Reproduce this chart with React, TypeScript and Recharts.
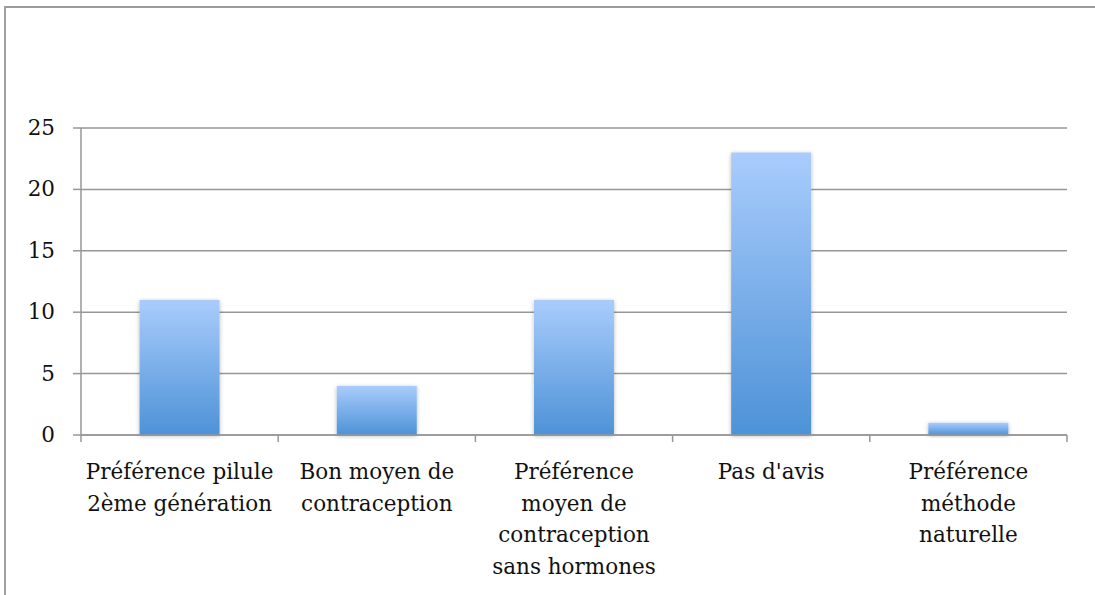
import React from "react";
import { BarChart, Bar, XAxis, YAxis, CartesianGrid } from "recharts";

const categories: string[] = [
  "Préférence pilule\n2ème génération",
  "Bon moyen de\ncontraception",
  "Préférence\nmoyen de\ncontraception\nsans hormones",
  "Pas d'avis",
  "Préférence\nméthode\nnaturelle",
];
const values: number[] = [11, 4, 11, 23, 1];
const yTicks: number[] = [0, 5, 10, 15, 20, 25];

const data = categories.map((c, i) => ({ name: c, value: values[i] }));

const FONT = "'DejaVu Serif', serif";
const FONT_SIZE = 21.5;
const GRID = "#979797";

const CatTick = (props: any) => {
  const { x, y, payload, index, visibleTicksCount } = props;
  const lines = String(payload.value).split("\n");
  const half = payload.offset ?? 0;
  const last = index === (visibleTicksCount ?? categories.length) - 1;
  return (
    <g>
      <line x1={x - half} x2={x - half} y1={y} y2={y + 7} stroke={GRID} strokeWidth={1.5} />
      {last && <line x1={x + half} x2={x + half} y1={y} y2={y + 7} stroke={GRID} strokeWidth={1.5} />}
      <text textAnchor="middle" fontFamily={FONT} fontSize={FONT_SIZE} fill="#111">
        {lines.map((l, i) => (
          <tspan key={i} x={x} y={y + 44 + i * 31.5}>
            {l}
          </tspan>
        ))}
      </text>
    </g>
  );
};

const ValTick = (props: any) => {
  const { x, y, payload } = props;
  return (
    <text x={x} y={y + 7} textAnchor="end" fontFamily={FONT} fontSize={FONT_SIZE} fill="#111">
      {payload.value}
    </text>
  );
};

export default function App() {
  return (
    <div style={{ position: "absolute", left: 0, top: 0, width: 1095, height: 595, overflow: "hidden", background: "#fff" }}>
      <div style={{ position: "absolute", left: 4, top: 6, width: 1091, height: 2, background: "#9a9a9a" }} />
      <div style={{ position: "absolute", left: 4, top: 6, width: 2, height: 589, background: "#a0a0a0" }} />
      <div style={{ position: "absolute", left: 0, top: 0 }}>
        <BarChart
          width={1095}
          height={595}
          data={data}
          margin={{ top: 128, right: 28, left: 0, bottom: 0 }}
          barCategoryGap="29.7%"
        >
          <defs>
            <linearGradient id="barGrad" x1="0" y1="0" x2="0" y2="1">
              <stop offset="0%" stopColor="#A9CCFC" />
              <stop offset="100%" stopColor="#4D92D7" />
            </linearGradient>
            <filter id="barShadow" x="-20%" y="-20%" width="140%" height="140%">
              <feDropShadow dx="0" dy="1" stdDeviation="2.2" floodColor="#000" floodOpacity="0.28" />
            </filter>
          </defs>
          <CartesianGrid vertical={false} stroke={GRID} strokeWidth={1.5} />
          <XAxis
            dataKey="name"
            interval={0}
            height={160}
            tickLine={false}
            tickSize={0}
            tickMargin={0}
            axisLine={{ stroke: GRID, strokeWidth: 1.5 }}
            tick={<CatTick />}
          />
          <YAxis
            width={81}
            domain={[0, 25]}
            ticks={yTicks}
            interval={0}
            tickSize={8}
            tickMargin={18}
            tickLine={{ stroke: GRID, strokeWidth: 1.5 }}
            axisLine={{ stroke: GRID, strokeWidth: 1.5 }}
            tick={<ValTick />}
          />
          <Bar dataKey="value" fill="url(#barGrad)" filter="url(#barShadow)" isAnimationActive={false} />
        </BarChart>
      </div>
    </div>
  );
}
